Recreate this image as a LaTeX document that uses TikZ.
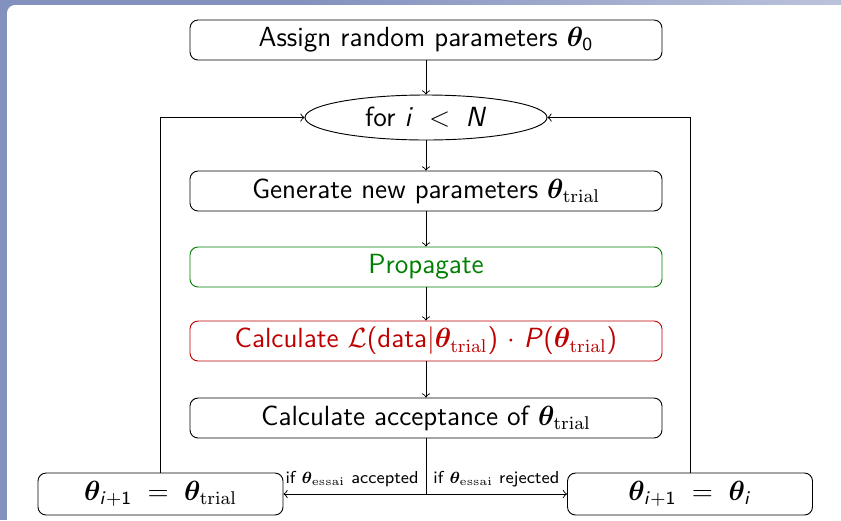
\documentclass[tikz,border=0pt,11pt]{standalone}
\usepackage{amsmath,bm}
\usetikzlibrary{shapes.geometric,calc}
\renewcommand{\familydefault}{\sfdefault}
\DeclareMathAlphabet{\mathsfit}{OT1}{cmss}{m}{sl}
\DeclareMathAlphabet{\mathsfup}{OT1}{cmss}{m}{n}
\definecolor{bgblue}{RGB}{131,145,190}
\definecolor{boxgreen}{RGB}{0,128,0}
\definecolor{boxred}{RGB}{190,0,0}
\def\pxu{0.433pt}
\tikzset{
  every node/.style={font=\fontsize{12}{14}\selectfont},
  stepbox/.style={draw, rounded corners=3.5pt, minimum width=472*\pxu, minimum height=40*\pxu, inner sep=0pt, line width=0.4pt},
  endbox/.style={draw, rounded corners=3.5pt, minimum width=245*\pxu, minimum height=42*\pxu, inner sep=0pt, line width=0.4pt},
  loopnode/.style={draw, ellipse, minimum width=242*\pxu, minimum height=45*\pxu, inner sep=0pt, line width=0.4pt},
  conn/.style={->, line width=0.4pt},
  lbl/.style={font=\fontsize{7.5}{9}\selectfont, inner sep=3pt}
}
\newcommand{\thb}{\boldsymbol{\theta}}
\begin{document}
\begin{tikzpicture}[x=0.433pt,y=-0.433pt]
\useasboundingbox (0,0) rectangle (841,520);
\fill[bgblue] (0,0) rectangle (841,520);
\shade[left color=bgblue, right color=bgblue!55!white] (300,0) rectangle (841,6);
\fill[white, rounded corners=3.5pt] (7,5) rectangle (870,560);

\node[stepbox] (init) at (426,40) {Assign random parameters $\thb_{\mathsfup{0}}$};
\node[loopnode] (loop) at (426,117.5) {for $\mathsfit{i} \;<\; \mathsfit{N}$};
\node[stepbox] (gen) at (426,191) {Generate new parameters $\thb_{\mathrm{trial}}$};
\node[stepbox, draw=boxgreen, text=boxgreen] (prop) at (426,267) {Propagate};
\node[stepbox, draw=boxred, text=boxred] (calc) at (426,341) {Calculate $\mathcal{L}$(data$|\thb_{\mathrm{trial}}$) $\cdot$ $\mathsfit{P}$($\thb_{\mathrm{trial}}$)};
\node[stepbox] (acc) at (426,418) {Calculate acceptance of $\thb_{\mathrm{trial}}$};
\node[endbox] (bl) at (160.5,494) {$\thb_{\mathsfit{i}+\mathsfup{1}} \;=\; \thb_{\mathrm{trial}}$};
\node[endbox] (br) at (690,494) {$\thb_{\mathsfit{i}+\mathsfup{1}} \;=\; \thb_{\mathsfit{i}}$};
\coordinate (split) at (426,494);

\draw[conn] (init) -- (loop);
\draw[conn] (loop) -- (gen);
\draw[conn] (gen) -- (prop);
\draw[conn] (prop) -- (calc);
\draw[conn] (calc) -- (acc);
\draw[line width=0.4pt] (acc.south) -- (split);
\draw[conn] (split) -- (bl.east);
\draw[conn] (split) -- (br.west);
\draw[conn] (bl.north) |- (loop.west);
\draw[conn] (br.north) |- (loop.east);
\node[lbl, anchor=south east] (lacc) at (split) {if $\thb_{\mathrm{essai}}$ accepted};
\node[lbl, anchor=south west] (lrej) at (split) {if $\thb_{\mathrm{essai}}$ rejected};
\end{tikzpicture}
\end{document}
